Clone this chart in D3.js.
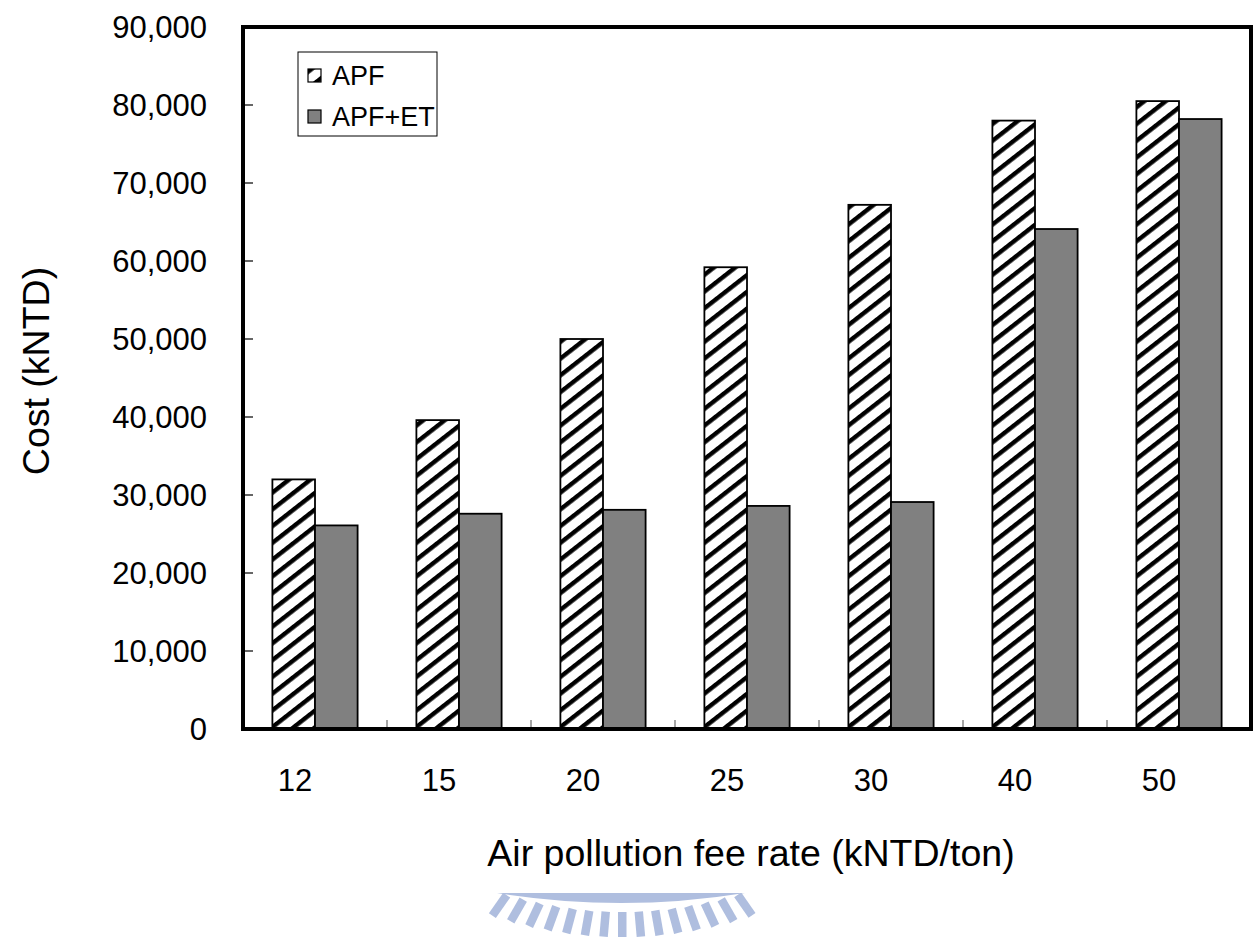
<!DOCTYPE html>
<html lang="en">
<head>
<meta charset="utf-8">
<title>Cost vs air pollution fee rate</title>
<script src="https://cdn.jsdelivr.net/npm/d3@7"></script>
<style>
    body { margin: 0; background: #fff; }
    svg { font-family: "Liberation Sans", Arial, sans-serif; }
    .tick-label { font-size: 31px; fill: #000; }
    .title { font-size: 37.5px; fill: #000; }
    .legend text { font-size: 27px; fill: #000; }
</style>
</head>
<body>
<svg></svg>
<script>
    // data
    var rates = ["12", "15", "20", "25", "30", "40", "50"];
    var seriesNames = ["APF", "APF+ET"];
    var apf   = [32000, 39600, 50000, 59200, 67200, 78000, 80500];
    var apfEt = [26100, 27600, 28100, 28600, 29100, 64100, 78200];
    var yTicks = [0, 10000, 20000, 30000, 40000, 50000, 60000, 70000, 80000, 90000];

    var width = 1254, height = 940;
    var margin = {top: 27, left: 243, right: 3, bottom: 211};
    var chartWidth = width - margin.left - margin.right,
        chartHeight = height - margin.top - margin.bottom;

    var svg = d3.select("svg")
        .attr("width", width)
        .attr("height", height);

    var defs = svg.append("defs");
    var hatch = defs.append("pattern")
        .attr("id", "hatch")
        .attr("patternUnits", "userSpaceOnUse")
        .attr("width", 20)
        .attr("height", 13.2)
        .attr("patternTransform", "rotate(-38)");
    hatch.append("rect").attr("width", 20).attr("height", 13.2).attr("fill", "#fff");
    hatch.append("rect").attr("width", 20).attr("height", 4.4).attr("fill", "#000");

    // watermark: faint emblem peeking in at the bottom
    defs.append("clipPath").attr("id", "wmclip")
        .append("rect").attr("x", 480).attr("y", 893).attr("width", 290).attr("height", 47);
    var wm = svg.append("g").attr("fill", "#afbedf").attr("clip-path", "url(#wmclip)");
    wm.append("path").attr("d", "M497,885 L745,885 L745,893 Q621,913 497,893 Z");
    d3.range(-7, 8).forEach(function (k) {
        var cx = 622 + k * 16.5,
            top = 912 - 17 * (k / 7) * (k / 7);
        wm.append("rect")
            .attr("x", -4).attr("y", 0).attr("width", 8.5).attr("height", 25)
            .attr("transform", "translate(" + cx + "," + top + ") rotate(" + (-k * 5) + ")");
    });

    var g = svg.append("g")
        .attr("transform", "translate(" + margin.left + "," + margin.top + ")");

    var x = d3.scaleBand().domain(rates).range([0, chartWidth]);
    var xSub = d3.scaleBand().domain(seriesNames)
        .range([0, x.bandwidth()]).paddingOuter(0.69);
    var y = d3.scaleLinear().domain([0, 90000]).range([chartHeight, 0]);

    var rows = rates.map(function (r, i) {
        return {rate: r, values: [apf[i], apfEt[i]]};
    });
    var fills = ["url(#hatch)", "#808080"];

    var groups = g.selectAll(".grp")
        .data(rows)
        .enter().append("g")
        .attr("class", "grp")
        .attr("transform", function (d) { return "translate(" + x(d.rate) + ",0)"; });

    groups.selectAll("rect")
        .data(function (d) {
            return d.values.map(function (v, j) { return {name: seriesNames[j], value: v, j: j}; });
        })
        .enter().append("rect")
        .attr("x", function (d) { return xSub(d.name); })
        .attr("width", xSub.bandwidth())
        .attr("y", function (d) { return y(d.value); })
        .attr("height", function (d) { return chartHeight - y(d.value); })
        .attr("fill", function (d) { return fills[d.j]; })
        .attr("stroke", "#000")
        .attr("stroke-width", 1.8);

    // inner y ticks
    g.selectAll(".ytick")
        .data(yTicks.slice(1, -1))
        .enter().append("line")
        .attr("x1", 0).attr("x2", 10)
        .attr("y1", function (d) { return y(d); })
        .attr("y2", function (d) { return y(d); })
        .attr("stroke", "#000")
        .attr("stroke-width", 1.2);

    // small grey ticks between categories
    g.selectAll(".xtick")
        .data(rates.slice(1))
        .enter().append("line")
        .attr("x1", function (d) { return x(d); })
        .attr("x2", function (d) { return x(d); })
        .attr("y1", chartHeight).attr("y2", chartHeight - 9)
        .attr("stroke", "#888")
        .attr("stroke-width", 1.5);

    // frame
    g.append("rect")
        .attr("width", chartWidth).attr("height", chartHeight)
        .attr("fill", "none")
        .attr("stroke", "#000")
        .attr("stroke-width", 4);

    // y labels
    var fmt = d3.format(",");
    g.selectAll(".ylab")
        .data(yTicks)
        .enter().append("text")
        .attr("class", "tick-label")
        .attr("x", -36)
        .attr("y", function (d) { return y(d); })
        .attr("dy", "0.36em")
        .attr("text-anchor", "end")
        .text(function (d) { return fmt(d); });

    // x labels (sit a little left of the group centre, as in the original)
    g.selectAll(".xlab")
        .data(rates)
        .enter().append("text")
        .attr("class", "tick-label")
        .attr("x", function (d) { return x(d) + x.bandwidth() / 2 - 20; })
        .attr("y", chartHeight + 62)
        .attr("text-anchor", "middle")
        .text(function (d) { return d; });

    svg.append("text")
        .attr("class", "title")
        .attr("x", 751).attr("y", 866)
        .attr("text-anchor", "middle")
        .text("Air pollution fee rate (kNTD/ton)");

    svg.append("text")
        .attr("class", "title")
        .attr("transform", "translate(49,371) rotate(-90)")
        .attr("text-anchor", "middle")
        .text("Cost (kNTD)");

    // legend
    var legend = svg.append("g").attr("class", "legend")
        .attr("transform", "translate(298,52)");
    legend.append("rect")
        .attr("width", 139).attr("height", 84)
        .attr("fill", "#fff").attr("stroke", "#000").attr("stroke-width", 1);
    var items = legend.selectAll(".item")
        .data(seriesNames)
        .enter().append("g")
        .attr("transform", function (d, i) { return "translate(10," + (17 + i * 41) + ")"; });
    items.append("rect")
        .attr("width", 13).attr("height", 13)
        .attr("fill", function (d, i) { return fills[i]; })
        .attr("stroke", "#000").attr("stroke-width", 1.2);
    items.append("text")
        .attr("x", 24).attr("y", 16)
        .text(function (d) { return d; });
</script>
</body>
</html>
